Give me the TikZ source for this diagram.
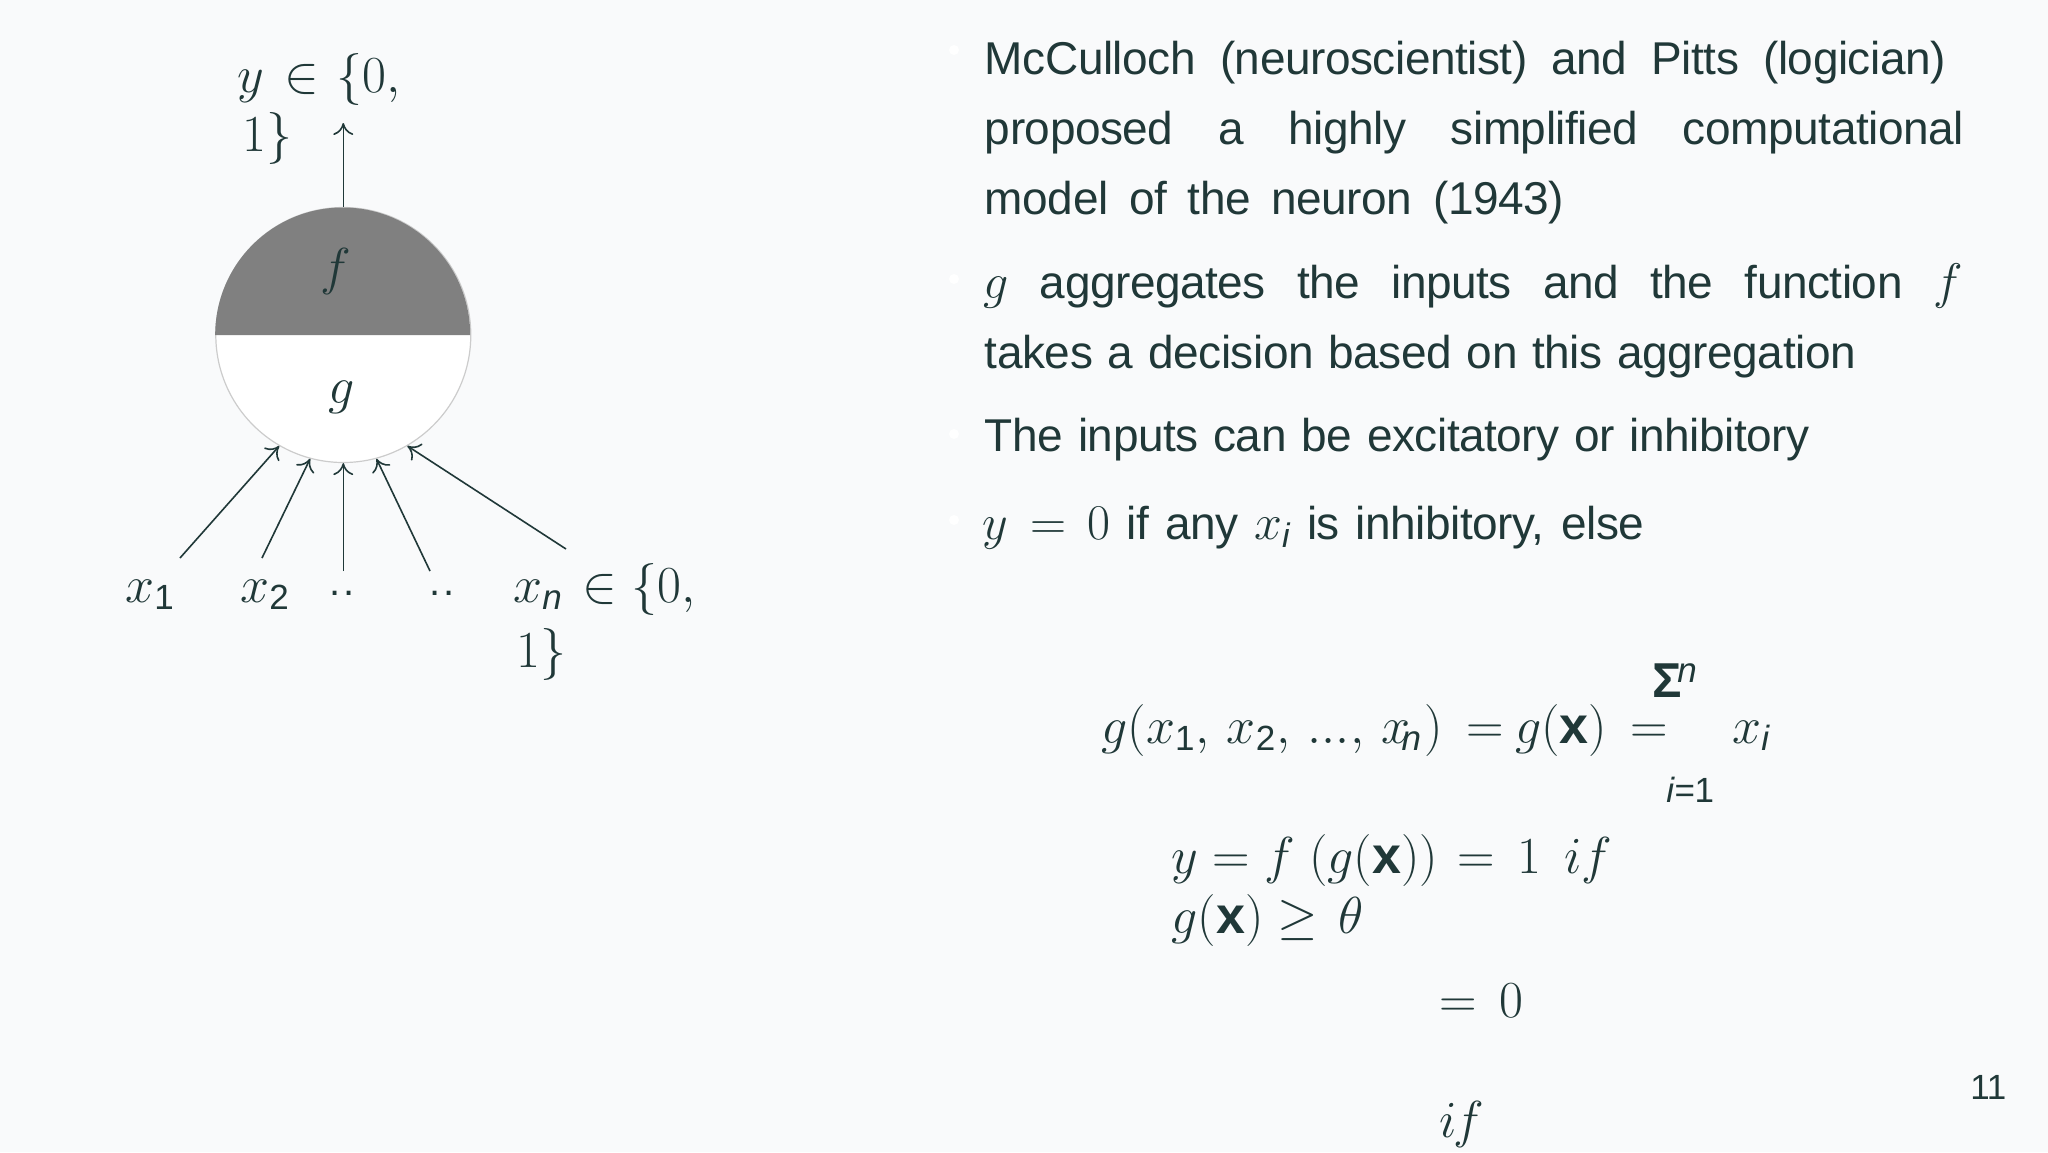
\documentclass[tikz,border=0pt]{standalone}
\usepackage{fix-cm}
\usepackage{amsmath}
\usepackage[no-math]{fontspec}
\setmainfont[LetterSpace=-1]{Liberation Sans}
\usetikzlibrary{arrows.meta}

\definecolor{pagebg}{HTML}{F9FAFB}
\definecolor{inktext}{HTML}{203838}
\definecolor{halfgray}{HTML}{808080}
\definecolor{rimgray}{HTML}{CCCCCC}

\DeclareMathSizes{26}{26}{17.5}{13}
\DeclareMathSizes{23}{25}{17}{13}

\newcommand{\fitline}[2]{\makebox[#1][s]{#2}}
\newcommand{\subtxt}[1]{_{\text{#1}}}

\tikzset{
	mathlabel/.style = {anchor=base west, inner sep=0pt, text=inktext, font=\fontsize{26}{26}\selectfont},
	bodyline/.style = {anchor=base west, inner sep=0pt, text=inktext, font=\fontsize{23}{23}\selectfont},
	smalllabel/.style = {anchor=base west, inner sep=0pt, text=inktext, font=\fontsize{17.5}{17.5}\selectfont},
	synapse/.style = {draw=inktext, line width=0.8pt, -{To[length=6pt,width=10pt]}}
}

\begin{document}
\begin{tikzpicture}[x=0.5pt,y=-0.5pt]

	\fill [pagebg] (0,0) rectangle (2048,1152);
	\useasboundingbox (0,0) rectangle (2048,1152);

	% the neuron
	\node [circle, minimum size=127.5pt, inner sep=0pt, draw=rimgray, line width=0.6pt, fill=white] (neuron) at (343.3,335) {};
	\fill [halfgray] (neuron.west) arc [start angle=180, end angle=0, radius=63.75pt] -- cycle;
	\node [mathlabel, anchor=base] (flabel) at (336,284) {$f$};
	\node [mathlabel, anchor=base] (glabel) at (342,403) {$g$};

	% output
	\coordinate (yend) at (343.3,123);
	\draw [synapse] (neuron.north) -- (yend);
	\node [mathlabel] (ylabel) at (237,92) {$y\mkern2mu\in\mkern1mu\{0,$};
	\node [mathlabel] (ylabelb) at (242,151) {$1\}$};

	% inputs
	\coordinate (xa) at (180,558);
	\coordinate (xb) at (262,558);
	\coordinate (xc) at (343.3,571);
	\coordinate (xd) at (430,571);
	\coordinate (xe) at (566,549);
	\foreach \start/\ang in {xa/240,xb/255,xc/270,xd/285,xe/300}
		\draw [synapse] (\start) -- (neuron.\ang);

	\node [mathlabel] (xone) at (125,602) {$x\subtxt{1}$};
	\node [mathlabel] (xtwo) at (240,602) {$x\subtxt{2}$};
	\node [smalllabel, font=\fontsize{20}{20}\selectfont] (dotsa) at (329,595) {.\kern1.3pt.};
	\node [smalllabel, font=\fontsize{20}{20}\selectfont] (dotsb) at (429,595) {.\kern1.3pt.};
	\node [mathlabel] (xn) at (513,602) {$x\subtxt{\textit{n}}\mkern2mu\in\{0,$};
	\node [mathlabel] (xnb) at (516,667) {$1\}$};

	% bullets
	\foreach \bullety/\bulletname in {50/ba,279/bb,434/bc,520/bd}
		\fill [white] (954,\bullety) circle (2.5pt) coordinate (\bulletname);

	% text
	\node [bodyline] (linea) at (984.5,74) {\fitline{480.5pt}{McCulloch (neuroscientist) and Pitts (logician)}};
	\node [bodyline] (lineb) at (984.5,144) {\fitline{489.5pt}{proposed a highly simplified computational}};
	\node [bodyline] (linec) at (984.5,214) {\fitline{289.5pt}{model of the neuron (1943)}};
	\node [bodyline] (lined) at (983,298) {\fitline{490pt}{$g$ aggregates the inputs and the function $f$}};
	\node [bodyline] (linee) at (984.5,368) {\fitline{435.5pt}{takes a decision based on this aggregation}};
	\node [bodyline] (linef) at (984.5,451) {\fitline{412.5pt}{The inputs can be excitatory or inhibitory}};
	\node [bodyline] (lineg) at (982,539.5) {\fitline{331pt}{$y=0$ if any $x\subtxt{\textit{i}}$ is inhibitory, else}};

	% equations
	\node [mathlabel] (eqlhs) at (1101,743) {$g(x\subtxt{1},\,x\subtxt{2},\,...,\,x\kern-4.5pt\subtxt{\textit{n}}\mkern1mu)\mkern3mu=\mkern-1mu g(\text{\bfseries x})\mkern3mu=$};
	\node [mathlabel, font=\fontsize{24.5}{24.5}\selectfont\bfseries] (sumsign) at (1652,697) {Σ};
	\node [smalllabel] (sumtop) at (1677,682) {\textit{n}};
	\node [smalllabel] (sumbottom) at (1666,802) {\textit{i}=1};
	\node [mathlabel] (eqsum) at (1732,743) {$x\subtxt{\textit{i}}$};
	\node [mathlabel] (eqy) at (1171,873) {$y=f\ (g(\text{\bfseries x}))\mkern2mu=\mkern2.5mu1\ \ \mkern-1.5mu if$};
	\node [mathlabel] (eqyb) at (1171,933) {$g(\text{\bfseries x})\geq\mkern2mu\theta$};
	\node [mathlabel] (eqz) at (1439,1017) {$=\mkern3mu0$};
	\node [mathlabel] (eqzb) at (1439,1137) {$i\mkern-1mu f$};

	\node [smalllabel] (pagenum) at (1970,1099) {11};

\end{tikzpicture}
\end{document}
